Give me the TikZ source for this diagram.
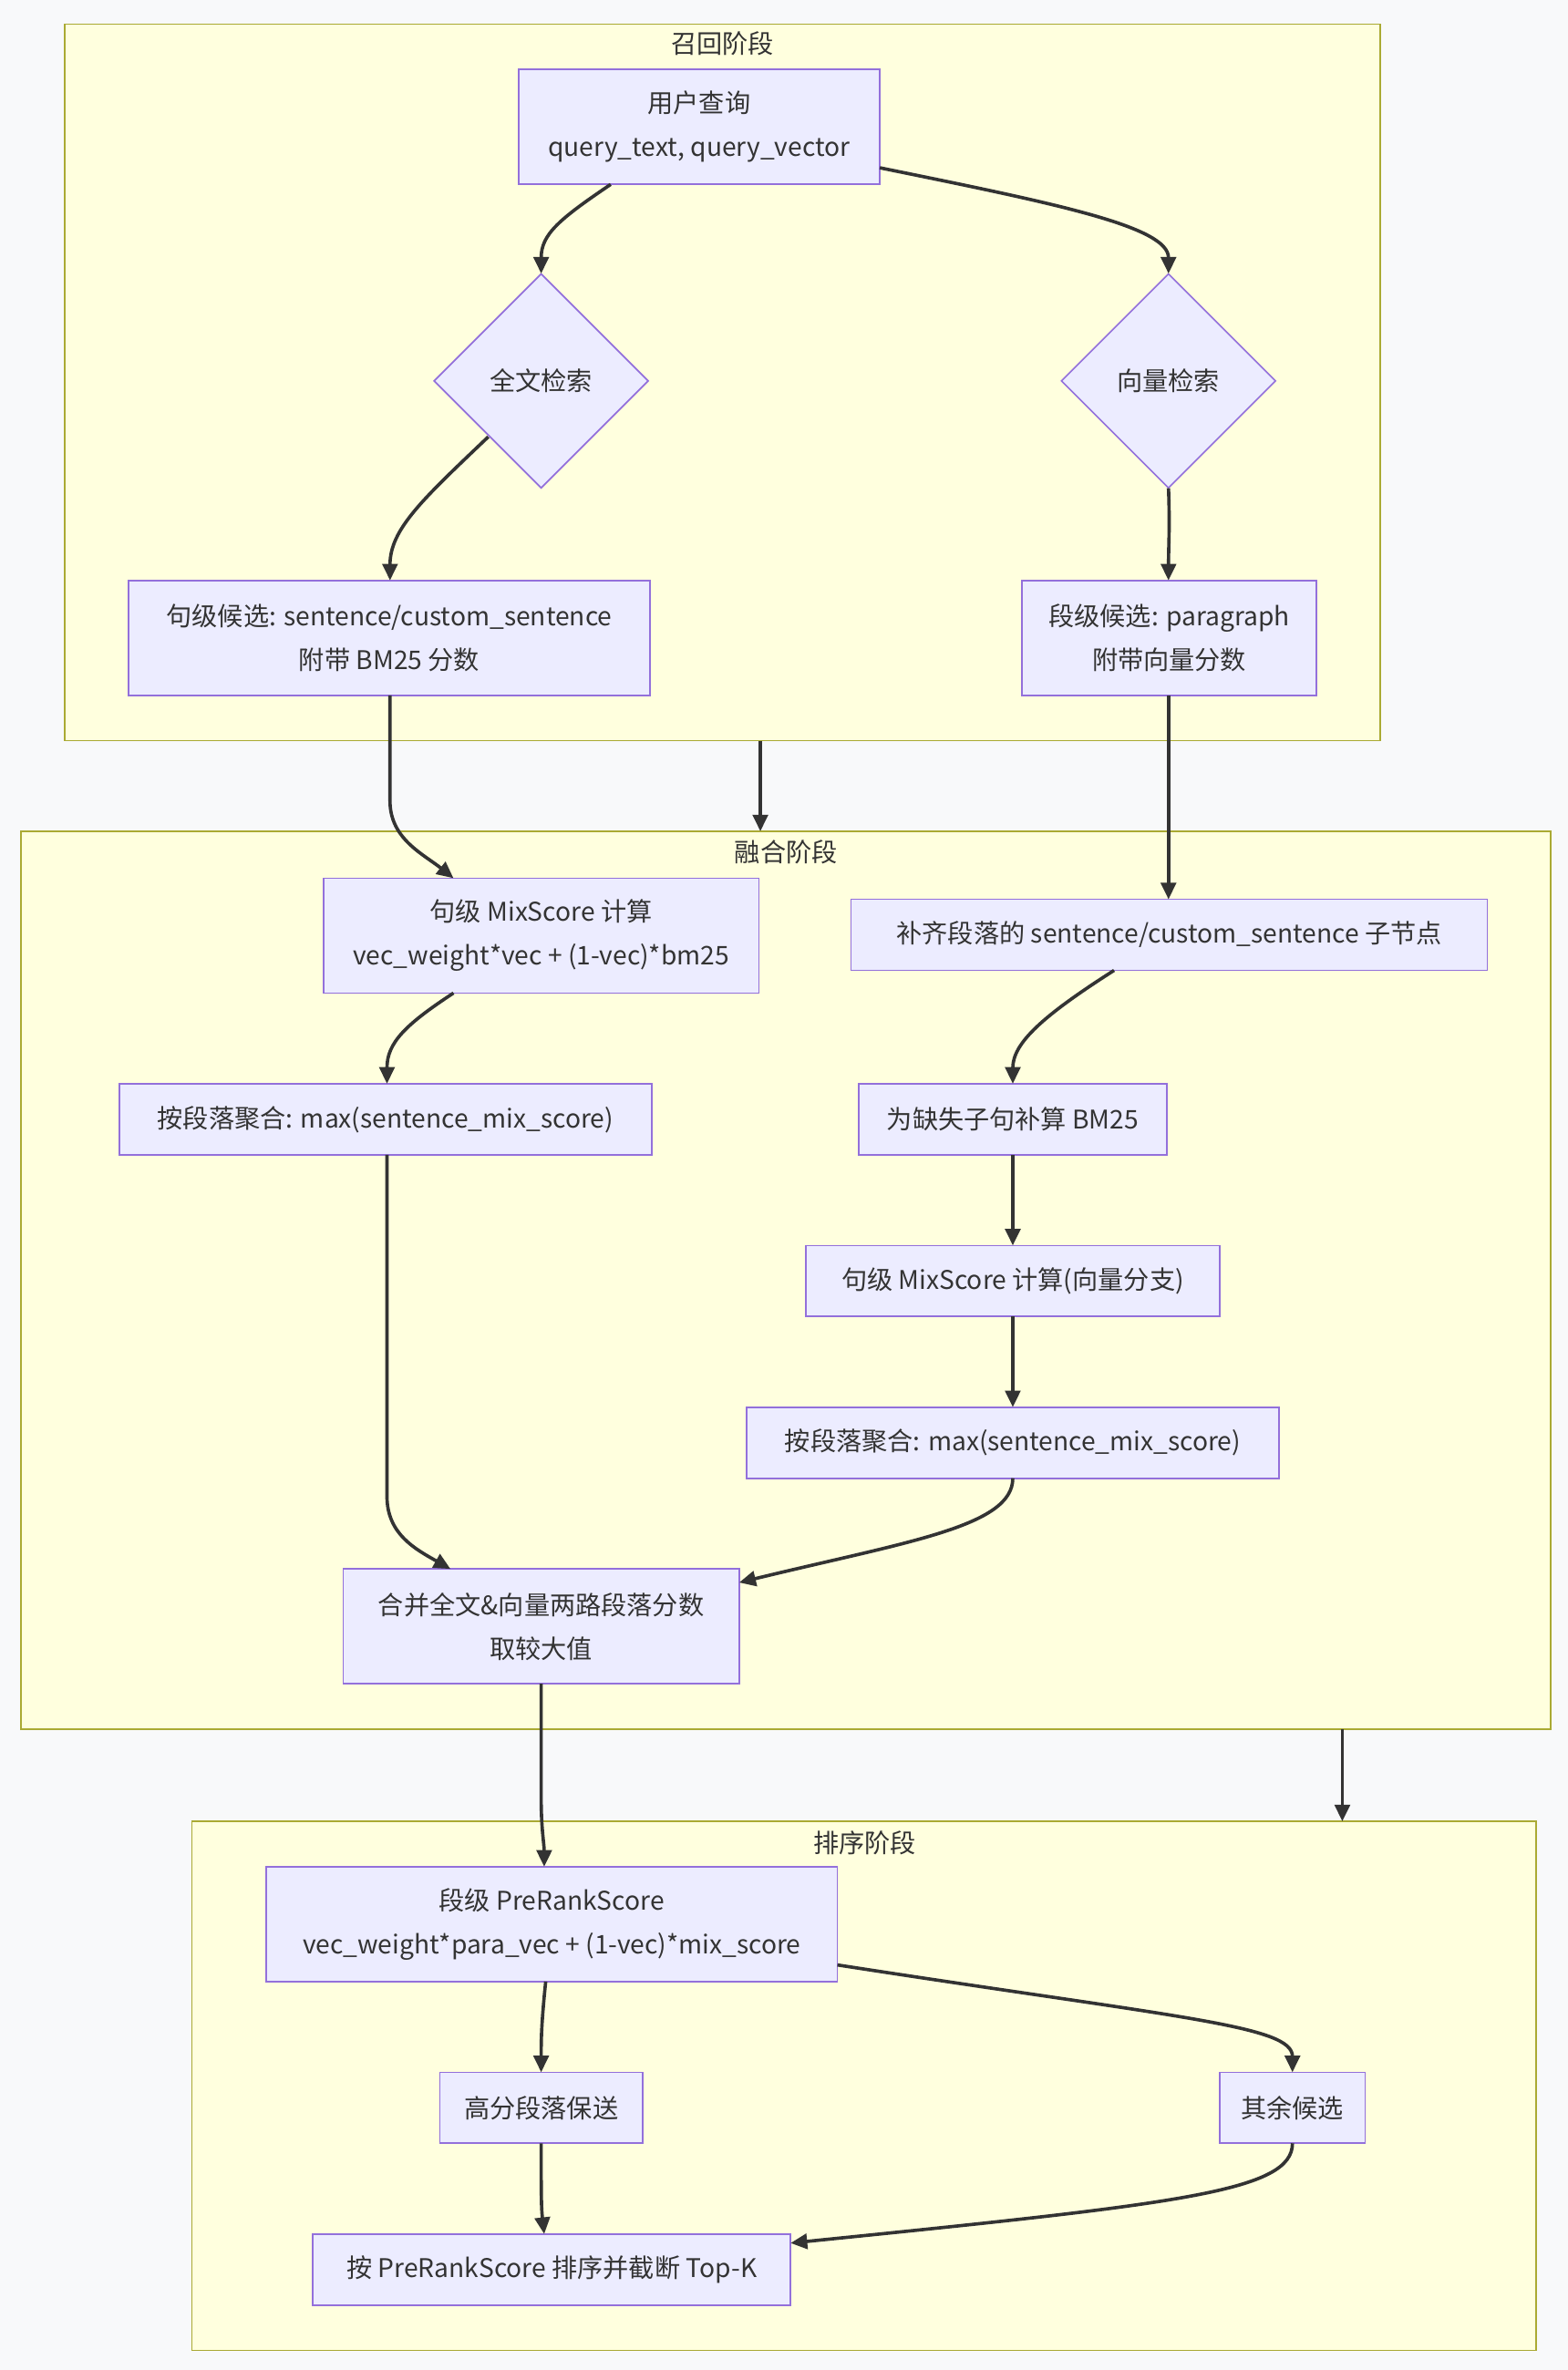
\documentclass[tikz,border=0pt]{standalone}
\usepackage{fontspec}
\setmainfont{Noto Sans CJK SC}
\usetikzlibrary{shapes.geometric,arrows.meta}
\definecolor{bg}{HTML}{F8F9FA}
\definecolor{cf}{HTML}{FFFFDE}
\definecolor{cs}{HTML}{AAAA33}
\definecolor{nf}{HTML}{ECECFF}
\definecolor{ns}{HTML}{9370DB}
\definecolor{ar}{HTML}{333333}
\begin{document}
\begin{tikzpicture}[x=1pt,y=-1pt,
 cl/.style={fill=cf,draw=cs,line width=1pt},
 ttl/.style={font=\fontsize{17}{20}\selectfont,text=ar},
 box/.style={fill=nf,draw=ns,line width=1pt},
 lab/.style={font=\fontsize{17}{29}\selectfont,text=ar,align=center},
 dia/.style={diamond,aspect=1,fill=nf,draw=ns,line width=1pt,minimum size=142pt,inner sep=0pt,font=\fontsize{17}{20}\selectfont,text=ar},
 e/.style={draw=ar,line width=2.2pt,-{Triangle[length=11pt,width=10pt]}}]
\useasboundingbox (0,0) rectangle (1037,1568);
\fill[bg] (0,0) rectangle (1037,1568);
% clusters
\draw[cl] (43,16) rectangle (913,490);
\node[ttl] at (478,29) {召回阶段};
\draw[cl] (14,550) rectangle (1026,1144);
\node[ttl] at (520,564) {融合阶段};
\draw[cl] (127,1205) rectangle (1016,1555);
\node[ttl] at (572,1219) {排序阶段};
\newcommand\bx[6]{\draw[box] (#2,#3) rectangle (#4,#5); \node[lab] (#1) at ({(#2+#4)/2},{(#3+#5)/2}) [minimum width={#4-#2},minimum height={#5-#3}] {#6};}
\bx{q}{343}{46}{582}{122}{用户查询\\query\_text, query\_vector}
\node[dia] (ft) at (358,252) {全文检索};
\node[dia] (vs) at (773,252) {向量检索};
\bx{sc}{85}{384}{430}{460}{句级候选: sentence/custom\_sentence\\附带 BM25 分数}
\bx{pc}{676}{384}{871}{460}{段级候选: paragraph\\附带向量分数}
\bx{mix}{214}{581}{502}{657}{句级 MixScore 计算\\vec\_weight*vec + (1-vec)*bm25}
\bx{fill}{563}{595}{984}{642}{补齐段落的 sentence/custom\_sentence 子节点}
\bx{aggl}{79}{717}{431}{764}{按段落聚合: max(sentence\_mix\_score)}
\bx{bm}{568}{717}{772}{764}{为缺失子句补算 BM25}
\bx{mixv}{533}{824}{807}{871}{句级 MixScore 计算(向量分支)}
\bx{aggr}{494}{931}{846}{978}{按段落聚合: max(sentence\_mix\_score)}
\bx{merge}{227}{1038}{489}{1114}{合并全文\&向量两路段落分数\\取较大值}
\bx{pr}{176}{1235}{554}{1311}{段级 PreRankScore\\vec\_weight*para\_vec + (1-vec)*mix\_score}
\bx{hi}{291}{1371}{425}{1418}{高分段落保送}
\bx{rest}{807}{1371}{903}{1418}{其余候选}
\bx{top}{207}{1478}{523}{1525}{按 PreRankScore 排序并截断 Top-K}
\coordinate (c1) at (503,490); \coordinate (c2) at (503,550);
\coordinate (c3) at (888,1144); \coordinate (c4) at (888,1205);
% edges
\draw[e] (404,122) .. controls (370,145) and (358,155) .. (358,181);
\draw[e] (582,111) .. controls (700,135) and (773,150) .. (773,181);
\draw[e] (323,289) .. controls (280,330) and (258,350) .. (258,384);
\draw[e] (773,323) .. controls (774,350) and (773,360) .. (773,384);
\draw[e] (258,460) -- (258,530) .. controls (258,555) and (280,565) .. (300,581);
\draw[e] (773,460) -- (773,595);
\draw[e] (c1) -- (c2);
\draw[e] (300,657) .. controls (268,678) and (256,690) .. (256,717);
\draw[e] (737,642) .. controls (690,672) and (670,690) .. (670,717);
\draw[e] (670,764) -- (670,824);
\draw[e] (670,871) -- (670,931);
\draw[e] (256,764) -- (256,990) .. controls (256,1015) and (275,1025) .. (298,1038);
\draw[e] (670,978) .. controls (670,1010) and (600,1020) .. (489,1047);
\draw[e] (358,1114) -- (358,1190) .. controls (358,1210) and (360,1220) .. (360,1235);
\draw[e] (c3) -- (c4);
\draw[e] (361,1311) .. controls (358,1340) and (358,1350) .. (358,1371);
\draw[e] (554,1300) .. controls (780,1335) and (855,1340) .. (855,1371);
\draw[e] (358,1418) .. controls (358,1450) and (358,1460) .. (360,1478);
\draw[e] (855,1418) .. controls (855,1450) and (780,1458) .. (523,1484);
\end{tikzpicture}
\end{document}
